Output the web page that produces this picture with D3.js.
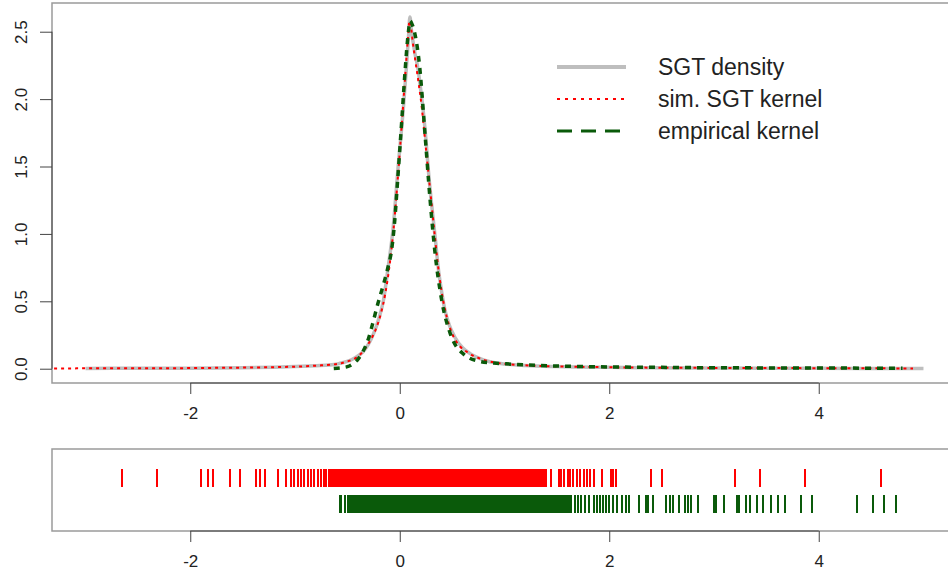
<!DOCTYPE html>
<html><head><meta charset="utf-8">
<script src="https://cdn.jsdelivr.net/npm/d3@7"></script>
<style>
html,body{margin:0;padding:0;background:#fff;}
svg{display:block;font-family:"Liberation Sans",Arial,Helvetica,sans-serif;}
</style></head>
<body>
<svg id="chart" width="948" height="577"></svg>
<script>
// ---------- data ----------
const sgtX = [-3.0,-2.5,-2.0,-1.5,-1.2,-1.0,-0.8,-0.67,-0.58,-0.51,-0.43,-0.35,-0.3,-0.25,-0.2,-0.155,-0.11,-0.065,-0.015,0.035,0.065,0.085,0.097,0.11,0.14,0.175,0.2,0.223,0.25,0.27,0.3,0.318,0.34,0.366,0.4,0.43,0.47,0.525,0.6,0.668,0.75,0.86,1.0,1.2,1.5,2.0,2.5,3.0,4.0,5.0];
const sgtY = [0.002,0.003,0.004,0.007,0.011,0.016,0.022,0.027,0.038,0.052,0.08,0.126,0.18,0.26,0.37,0.51,0.757,1.03,1.5,1.94,2.25,2.48,2.61,2.52,2.36,2.22,2.07,1.92,1.70,1.50,1.25,1.12,0.96,0.757,0.57,0.44,0.33,0.235,0.155,0.114,0.08,0.052,0.035,0.024,0.016,0.010,0.007,0.005,0.003,0.002];

const simX = [-3.3,-3.0,-2.6,-2.2,-1.8,-1.4,-1.1,-0.9,-0.75,-0.65,-0.55,-0.47,-0.4,-0.34,-0.28,-0.23,-0.18,-0.14,-0.1,-0.06,-0.02,0.02,0.05,0.075,0.093,0.105,0.12,0.15,0.18,0.21,0.24,0.27,0.3,0.33,0.36,0.4,0.45,0.5,0.57,0.65,0.75,0.85,1.0,1.2,1.5,1.8,2.2,2.6,3.0,3.5,4.0,4.5,4.9];
const simY = [0.001,0.003,0.004,0.004,0.006,0.009,0.013,0.018,0.025,0.03,0.043,0.062,0.09,0.14,0.21,0.29,0.41,0.55,0.75,1.03,1.40,1.82,2.15,2.42,2.58,2.55,2.45,2.28,2.12,1.94,1.71,1.48,1.25,1.02,0.8,0.57,0.38,0.26,0.17,0.12,0.08,0.055,0.036,0.025,0.017,0.013,0.009,0.007,0.006,0.005,0.004,0.003,0.002];

const empX = [-0.63,-0.55,-0.5,-0.45,-0.4,-0.35,-0.3,-0.25,-0.21,-0.18,-0.15,-0.11,-0.08,-0.05,-0.02,0.02,0.05,0.08,0.1,0.115,0.14,0.19,0.24,0.29,0.334,0.4,0.48,0.6,0.76,0.9,1.0,1.2,1.5,2.0,2.5,3.0,3.5,4.0,4.5,4.8];
const empY = [0.002,0.008,0.015,0.035,0.07,0.13,0.22,0.36,0.48,0.56,0.64,0.76,0.87,1.08,1.4,1.85,2.2,2.48,2.58,2.56,2.5,2.24,1.75,1.25,0.88,0.51,0.265,0.114,0.055,0.042,0.037,0.028,0.02,0.013,0.01,0.007,0.006,0.005,0.004,0.003];

const rugSim = [-2.647,-2.317,-1.897,-1.830,-1.782,-1.616,-1.527,-1.375,-1.337,-1.289,-1.162,-1.088,-1.043,
 -1.01,-0.975,-0.945,-0.91,-0.88,-0.85,-0.815,-0.785,-0.755,-0.725,-0.70,
 -0.680,-0.662,-0.644,-0.626,-0.607,-0.589,-0.571,-0.553,-0.534,-0.516,-0.498,-0.480,-0.461,-0.443,-0.425,-0.407,-0.388,-0.370,-0.352,-0.334,-0.315,-0.297,-0.279,-0.261,-0.242,-0.224,-0.206,-0.188,-0.169,-0.151,-0.133,-0.115,-0.096,-0.078,-0.060,-0.042,-0.023,-0.005,0.013,0.031,0.050,0.068,0.086,0.104,0.123,0.141,0.159,0.177,0.196,0.214,0.232,0.250,0.269,0.287,0.305,0.323,0.342,0.360,0.378,0.396,0.415,0.433,0.451,0.469,0.488,0.506,0.524,0.542,0.561,0.579,0.597,0.615,0.634,0.652,0.670,0.688,0.707,0.725,0.743,0.761,0.780,0.798,0.816,0.834,0.853,0.871,0.889,0.907,0.926,0.944,0.962,0.980,0.999,1.017,1.035,1.053,1.072,1.090,1.108,1.126,1.145,1.163,1.181,1.199,1.218,1.236,1.254,1.272,1.291,1.309,1.327,1.345,1.364,1.382,1.400,
 1.44,1.52,1.54,1.57,1.61,1.63,1.65,1.69,1.72,1.76,1.79,1.82,1.85,1.93,2.02,2.04,2.06,2.40,2.50,3.20,3.44,3.87,4.59];

const rugEmp = [-0.573,-0.557,-0.525,-0.49,-0.475,
 -0.460,-0.442,-0.424,-0.405,-0.387,-0.369,-0.351,-0.332,-0.314,-0.296,-0.278,-0.259,-0.241,-0.223,-0.205,-0.186,-0.168,-0.150,-0.132,-0.113,-0.095,-0.077,-0.059,-0.040,-0.022,-0.004,0.014,0.033,0.051,0.069,0.087,0.106,0.124,0.142,0.160,0.179,0.197,0.215,0.233,0.252,0.270,0.288,0.306,0.325,0.343,0.361,0.379,0.398,0.416,0.434,0.452,0.471,0.489,0.507,0.525,0.544,0.562,0.580,0.598,0.617,0.635,0.653,0.671,0.690,0.708,0.726,0.744,0.763,0.781,0.799,0.817,0.836,0.854,0.872,0.890,0.909,0.927,0.945,0.963,0.982,1.000,1.018,1.036,1.055,1.073,1.091,1.109,1.128,1.146,1.164,1.182,1.201,1.219,1.237,1.255,1.274,1.292,1.310,1.328,1.347,1.365,1.383,1.401,1.420,1.438,1.456,1.474,1.493,1.511,1.529,1.547,1.566,1.584,1.602,1.620,1.639,
 1.67,1.70,1.73,1.77,1.81,1.85,1.88,1.91,1.94,1.97,2.00,2.04,2.07,2.12,2.16,2.19,2.28,2.35,2.37,2.42,2.54,2.58,2.61,2.67,2.72,2.75,2.78,2.85,3.00,3.02,3.10,3.22,3.24,3.31,3.34,3.41,3.47,3.54,3.61,3.68,3.83,3.94,4.37,4.52,4.62,4.74];

const xTicks = [-2, 0, 2, 4];
const yTicks = [0.0, 0.5, 1.0, 1.5, 2.0, 2.5];
const legendLabels = ["SGT density", "sim. SGT kernel", "empirical kernel"];

// ---------- layout ----------
const svg = d3.select("#chart");
const L = 52, R = 957, T1 = 3, B1 = 383, T2 = 449, B2 = 531;
const x = d3.scaleLinear().domain([-3.32, 5.32]).range([L, R]);
const y = d3.scaleLinear().domain([-0.106, 2.713]).range([B1, T1]);
const boxCol = "#9a9a9a", axCol = "#444", txtCol = "#222";
const fs = 17;
const green = "#0a5a0a";

svg.append("defs").append("clipPath").attr("id","clip1")
  .append("rect").attr("x",L).attr("y",T1).attr("width",R-L).attr("height",B1-T1);

// ---------- top panel ----------
const g1 = svg.append("g").attr("clip-path","url(#clip1)");
const line = d3.line().x(d=>x(d[0])).y(d=>y(d[1])).curve(d3.curveMonotoneX);
g1.append("path").datum(d3.zip(sgtX, sgtY)).attr("d", line)
  .attr("fill","none").attr("stroke","#bebebe").attr("stroke-width",3.5);
g1.append("path").datum(d3.zip(simX, simY)).attr("d", line)
  .attr("fill","none").attr("stroke","#ff0000").attr("stroke-width",2).attr("stroke-dasharray","3,4");
g1.append("path").datum(d3.zip(empX, empY)).attr("d", line)
  .attr("fill","none").attr("stroke",green).attr("stroke-width",3.5).attr("stroke-dasharray","6,6");

svg.append("rect").attr("x",L).attr("y",T1).attr("width",R-L).attr("height",B1-T1)
  .attr("fill","none").attr("stroke",boxCol).attr("stroke-width",1.5);

function xAxis(yPos){
  const ga = svg.append("g").attr("transform",`translate(0,${yPos})`)
    .call(d3.axisBottom(x).tickValues(xTicks).tickSize(11).tickPadding(13).tickFormat(d3.format("d")));
  ga.select(".domain").attr("d",`M${x(xTicks[0])},0H${x(xTicks[xTicks.length-1])}`).attr("stroke",axCol);
  ga.selectAll(".tick line").attr("stroke",axCol);
  ga.selectAll(".tick text").attr("font-size",fs).attr("fill",txtCol)
    .attr("font-family","'Liberation Sans',Arial,sans-serif")
    .text(d=>d<0?"-"+Math.abs(d):d);
}
xAxis(B1);

const gy = svg.append("g").attr("transform",`translate(${L},0)`)
  .call(d3.axisLeft(y).tickValues(yTicks).tickSize(12).tickFormat(d3.format(".1f")));
gy.select(".domain").attr("d",`M0,${y(yTicks[0])}V${y(yTicks[yTicks.length-1])}`).attr("stroke",axCol);
gy.selectAll(".tick line").attr("stroke",axCol);
gy.selectAll(".tick text").attr("font-size",fs).attr("fill",txtCol)
  .attr("font-family","'Liberation Sans',Arial,sans-serif")
  .attr("x",null).attr("dy",null)
  .attr("text-anchor","middle").attr("dominant-baseline","central")
  .attr("transform","translate(-31,0) rotate(-90)");

// legend
const lg = svg.append("g");
const lx0 = 557, lx1 = 626, ltx = 658, ly = [67, 99, 131];
const lStyles = [
  {c:"#bebebe", w:4, d:null},
  {c:"#ff0000", w:2, d:"3,5"},
  {c:green, w:3, d:"15,9"}
];
legendLabels.forEach((t,i)=>{
  lg.append("line").attr("x1",lx0).attr("x2",lx1).attr("y1",ly[i]).attr("y2",ly[i])
    .attr("stroke",lStyles[i].c).attr("stroke-width",lStyles[i].w)
    .attr("stroke-dasharray",lStyles[i].d);
  lg.append("text").attr("x",ltx).attr("y",ly[i]).attr("dominant-baseline","central")
    .attr("font-size",23).attr("fill",txtCol).text(t);
});

// ---------- bottom panel (rug) ----------
const g2 = svg.append("g").attr("shape-rendering","crispEdges");
g2.selectAll("line.sim").data(rugSim).join("line").attr("class","sim")
  .attr("x1",d=>x(d)).attr("x2",d=>x(d)).attr("y1",469).attr("y2",487)
  .attr("stroke","#ff0000").attr("stroke-width",2);
g2.selectAll("line.emp").data(rugEmp).join("line").attr("class","emp")
  .attr("x1",d=>x(d)).attr("x2",d=>x(d)).attr("y1",495).attr("y2",513)
  .attr("stroke",green).attr("stroke-width",2);

svg.append("rect").attr("x",L).attr("y",T2).attr("width",R-L).attr("height",B2-T2)
  .attr("fill","none").attr("stroke",boxCol).attr("stroke-width",1.5);
xAxis(B2);
</script>
</body></html>
